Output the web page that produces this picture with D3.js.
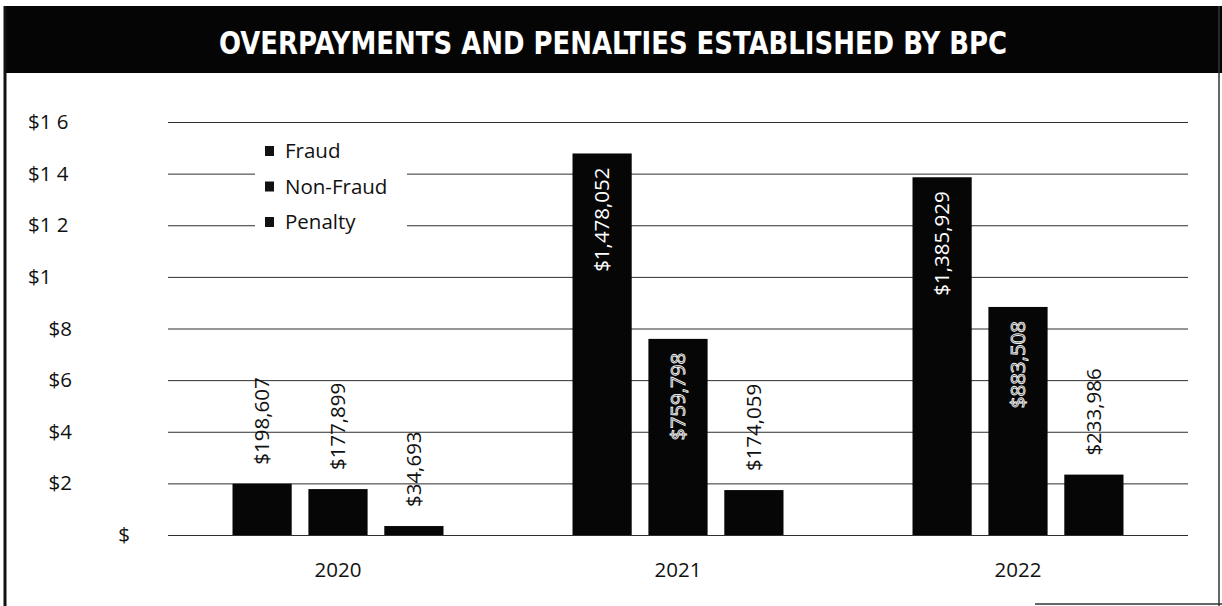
<!DOCTYPE html>
<html>
<head>
<meta charset="utf-8">
<script src="https://cdn.jsdelivr.net/npm/d3@7"></script>
<style>
  html, body { margin: 0; padding: 0; background: #fff; }
  svg { display: block; }
</style>
</head>
<body>
<svg id="chart" width="1222" height="606"></svg>
<script>
// Overpayments and penalties established by BPC, by year
const years = ["2020", "2021", "2022"];
const series = ["Fraud", "Non-Fraud", "Penalty"];
const fraud = [198607, 1478052, 1385929];
const nonFraud = [177899, 759798, 883508];
const penalty = [34693, 174059, 233986];
const yTicks = [0, 200000, 400000, 600000, 800000, 1000000, 1200000, 1400000, 1600000];
const yTickLabels = ["$", "$2", "$4", "$6", "$8", "$1", "$1 2", "$1 4", "$1 6"];
const title = "OVERPAYMENTS AND PENALTIES ESTABLISHED BY BPC";

const valuesBySeries = { "Fraud": fraud, "Non-Fraud": nonFraud, "Penalty": penalty };

const W = 1222, H = 606;
const plot = { left: 168, right: 1188, top: 122, bottom: 535 };
const bodyFont = "'Open Sans', 'DejaVu Sans', sans-serif";
const fs = 20.5;

const svg = d3.select("#chart");

// frame and header band
svg.append("rect").attr("x", 0).attr("y", 0).attr("width", W).attr("height", H).attr("fill", "#fff");
svg.append("rect").attr("x", 4).attr("y", 6).attr("width", W - 4).attr("height", 67).attr("fill", "#050505");
svg.append("line").attr("x1", 5).attr("x2", 5).attr("y1", 6).attr("y2", H)
  .attr("stroke", "#111").attr("stroke-width", 3);
svg.append("line").attr("x1", 1219).attr("x2", 1219).attr("y1", 6).attr("y2", H)
  .attr("stroke", "#333").attr("stroke-width", 1.5);
svg.append("line").attr("x1", 1035).attr("x2", W).attr("y1", 604).attr("y2", 604)
  .attr("stroke", "#333").attr("stroke-width", 1.5);

svg.append("text")
  .attr("x", 613).attr("y", 54)
  .attr("text-anchor", "middle")
  .attr("font-family", "'Liberation Sans Narrow', 'DejaVu Sans Condensed', 'Liberation Sans', sans-serif")
  .attr("font-weight", "bold")
  .attr("font-size", 32)
  .attr("fill", "#fff")
  .attr("textLength", 788)
  .attr("lengthAdjust", "spacingAndGlyphs")
  .text(title);

// scales
const y = d3.scaleLinear().domain([0, 1600000]).range([plot.bottom, plot.top]);
const x0 = d3.scaleBand().domain(years).range([plot.left, plot.right]);
const x1 = d3.scaleBand().domain(series).range([0, x0.bandwidth()])
  .paddingInner(0.22).paddingOuter(0.85);

// value axis with gridlines
const yAxis = d3.axisLeft(y)
  .tickValues(yTicks)
  .tickSize(-(plot.right - plot.left))
  .tickFormat((d, i) => yTickLabels[i]);

const gy = svg.append("g").attr("transform", `translate(${plot.left},0)`).call(yAxis);
gy.select(".domain").remove();
gy.selectAll(".tick line").attr("stroke", "#2e2e2e").attr("stroke-width", 1);
gy.selectAll(".tick text")
  .attr("font-family", bodyFont)
  .attr("font-size", fs)
  .attr("fill", "#111")
  .each(function (d) {
    const t = d3.select(this);
    const label = t.text();
    if (d === 0) {
      t.attr("text-anchor", "end").attr("x", 130 - plot.left);
    } else if (label.startsWith("$1")) {
      t.attr("text-anchor", "start").attr("x", 28 - plot.left);
    } else {
      t.attr("text-anchor", "end").attr("x", 72 - plot.left);
    }
  });

// category axis
const xAxis = d3.axisBottom(x0).tickSize(0).tickPadding(27);
const gx = svg.append("g").attr("transform", `translate(0,${plot.bottom})`).call(xAxis);
gx.select(".domain").remove();
gx.selectAll(".tick text")
  .attr("font-family", bodyFont)
  .attr("font-size", fs)
  .attr("fill", "#111");

// bars
const rows = years.map((yr, i) => series.map(s => ({ year: yr, series: s, value: valuesBySeries[s][i] })));

const groups = svg.append("g").selectAll("g")
  .data(rows)
  .join("g")
  .attr("transform", (d, i) => `translate(${x0(years[i])},0)`);

groups.selectAll("rect")
  .data(d => d)
  .join("rect")
  .attr("x", d => x1(d.series))
  .attr("y", d => y(d.value))
  .attr("width", x1.bandwidth())
  .attr("height", d => y(0) - y(d.value))
  .attr("fill", "#060606");

// rotated value labels
const fmt = v => "$" + d3.format(",")(v);
groups.selectAll("text.val")
  .data(d => d)
  .join("text")
  .attr("class", "val")
  .attr("font-family", bodyFont)
  .attr("font-size", fs)
  .attr("dy", "0.36em")
  .text(d => fmt(d.value))
  .each(function (d) {
    const t = d3.select(this);
    const len = this.getComputedTextLength();
    const cx = x1(d.series) + x1.bandwidth() / 2;
    const top = y(d.value);
    const barH = y(0) - top;
    if (barH > len + 40) {
      // label sits inside the top of the bar
      t.attr("text-anchor", "end")
        .attr("transform", `translate(${cx},${top + 14}) rotate(-90)`);
      if (d.series === "Non-Fraud") {
        t.attr("fill", "#2a2a2a").attr("stroke", "#f2f2f2").attr("stroke-width", 0.9);
      } else {
        t.attr("fill", "#fff");
      }
    } else {
      t.attr("text-anchor", "start")
        .attr("fill", "#111")
        .attr("transform", `translate(${cx},${top - 19}) rotate(-90)`);
    }
  });

// legend
const legend = svg.append("g").attr("transform", "translate(255,135)");
legend.append("rect").attr("width", 152).attr("height", 105).attr("fill", "#fff");
const items = legend.selectAll("g")
  .data(series)
  .join("g")
  .attr("transform", (d, i) => `translate(10,${16 + i * 35.5})`);
items.append("rect").attr("x", 0).attr("y", -5).attr("width", 9).attr("height", 10).attr("fill", "#111");
items.append("text")
  .attr("x", 20)
  .attr("dy", "0.36em")
  .attr("font-family", bodyFont)
  .attr("font-size", fs)
  .attr("fill", "#111")
  .text(d => d);
</script>
</body>
</html>
